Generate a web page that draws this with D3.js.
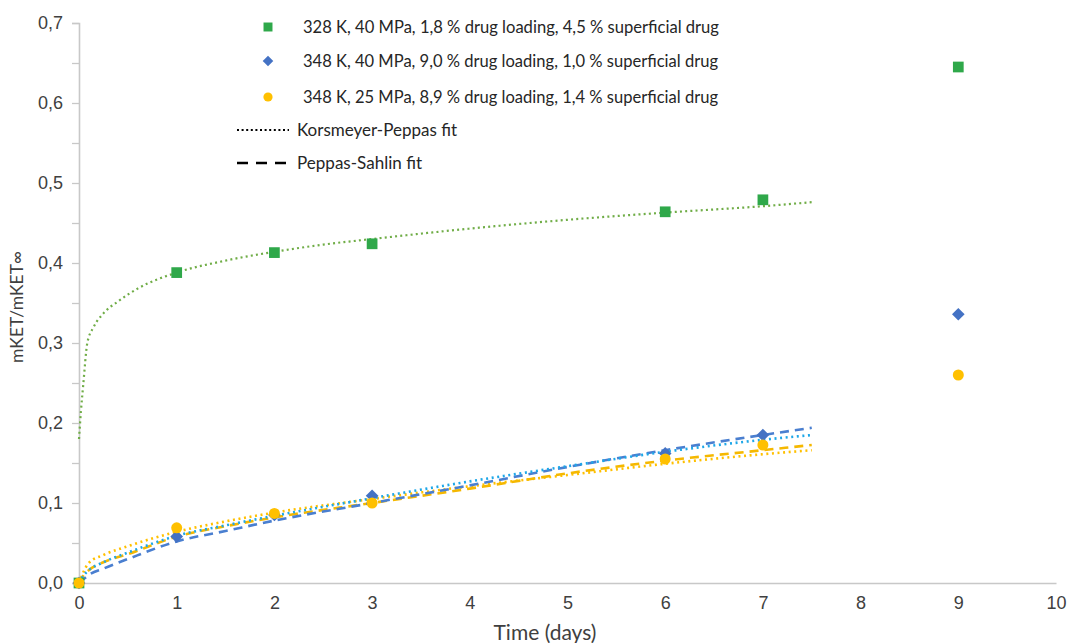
<!DOCTYPE html>
<html>
<head>
<meta charset="utf-8">
<script src="https://cdn.jsdelivr.net/npm/d3@7"></script>
<style>
  body { margin: 0; background: #fff; }
  svg { font-family: Lato, "Open Sans", sans-serif; }
</style>
</head>
<body>
<svg id="chart"></svg>
<script>
// measured points (days, mKET/mKET∞)
let days = [0, 1, 2, 3, 6, 7, 9]
let green = [0, 0.388, 0.413, 0.424, 0.464, 0.479, 0.645]
let blue = [0, 0.058, 0.085, 0.109, 0.162, 0.185, 0.336]
let yellow = [0, 0.069, 0.087, 0.100, 0.155, 0.1725, 0.26]

// fit curves
let greenFitT = [0, 0.02, 0.045, 0.085, 0.15, 0.25, 0.4, 0.6, 1, 1.5, 2, 2.5, 3, 4, 5, 6, 7, 7.5]
let greenKP = [0.18, 0.215, 0.25, 0.30, 0.32, 0.337, 0.352, 0.368, 0.388, 0.403, 0.414, 0.423, 0.43, 0.443, 0.454, 0.463, 0.471, 0.476]

let lowFitT = [0, 0.05, 0.1, 0.25, 0.5, 1, 1.5, 2, 3, 4, 5, 6, 7, 7.5]
let blueKP = [0, 0.010, 0.016, 0.026, 0.038, 0.059, 0.072, 0.084, 0.106, 0.127, 0.146, 0.164, 0.179, 0.185]
let bluePS = [0, 0.005, 0.010, 0.018, 0.030, 0.052, 0.065, 0.078, 0.100, 0.122, 0.145, 0.166, 0.185, 0.194]
let yellowKP = [0, 0.015, 0.025, 0.035, 0.046, 0.064, 0.077, 0.088, 0.105, 0.121, 0.135, 0.149, 0.161, 0.166]
let yellowPS = [0, 0.010, 0.016, 0.026, 0.036, 0.058, 0.071, 0.082, 0.100, 0.118, 0.137, 0.153, 0.166, 0.1725]

let legendLabels = [
    '328 K, 40 MPa, 1,8 % drug loading, 4,5 % superficial drug',
    '348 K, 40 MPa, 9,0 % drug loading, 1,0 % superficial drug',
    '348 K, 25 MPa, 8,9 % drug loading, 1,4 % superficial drug',
    'Korsmeyer-Peppas fit',
    'Peppas-Sahlin fit'
]
let yTicks = [0, 0.1, 0.2, 0.3, 0.4, 0.5, 0.6, 0.7]
let yMinorTicks = [0.05, 0.15, 0.25, 0.35, 0.45, 0.55, 0.65]
let xTicks = [0, 1, 2, 3, 4, 5, 6, 7, 8, 9, 10]

let width = 1067
let height = 643
let padLeft = 79, padRight = 1056, padTop = 23, padBottom = 583

let svg = d3.select('#chart').attr('width', width).attr('height', height)

let xScale = d3.scaleLinear().domain([0, 10]).range([padLeft, padRight])
let yScale = d3.scaleLinear().domain([0, 0.7]).range([padBottom, padTop])

const comma = d => d3.format('.1f')(d).replace('.', ',')

// axes
let yAxis = d3.axisLeft(yScale).tickValues(yTicks).tickFormat(comma).tickSize(7).tickPadding(9)
svg.append('g').attr('transform', `translate(${padLeft},0)`).call(yAxis)
let yMinor = d3.axisLeft(yScale).tickValues(yMinorTicks).tickFormat('').tickSize(7)
let gym = svg.append('g').attr('transform', `translate(${padLeft},0)`).call(yMinor)
gym.select('.domain').remove()

let xAxis = d3.axisBottom(xScale).tickValues(xTicks).tickFormat(d3.format('d')).tickSize(0).tickPadding(13)
svg.append('g').attr('transform', `translate(0,${padBottom})`).call(xAxis)

svg.selectAll('.domain').attr('stroke', '#c8c8c8').attr('stroke-width', 1.6)
svg.selectAll('.tick line').attr('stroke', '#c8c8c8').attr('stroke-width', 1.3)
svg.selectAll('.tick text').attr('fill', '#404040').style('font-size', '18px')

svg.append('text')
    .attr('x', 545).attr('y', 640)
    .attr('text-anchor', 'middle')
    .attr('fill', '#404040')
    .style('font-size', '21px')
    .text('Time (days)')

svg.append('text')
    .attr('transform', 'translate(23,307) rotate(-90)')
    .attr('text-anchor', 'middle')
    .attr('fill', '#404040')
    .style('font-size', '17.5px')
    .text('mKET/mKET∞')

// fit lines
const line = (ts) => d3.line()
    .x((d, i) => xScale(ts[i]))
    .y(d => yScale(d))
    .curve(d3.curveMonotoneX)

let fits = [
    { t: greenFitT, v: greenKP, color: '#70ad47', dash: '2,3.2', w: 2.2 },
    { t: lowFitT, v: yellowKP, color: '#ffc000', dash: '2,3.6', w: 2.6 },
    { t: lowFitT, v: yellowPS, color: '#f5b800', dash: '9,6', w: 2.6 },
    { t: lowFitT, v: bluePS, color: '#4a7fd0', dash: '9,6', w: 2.6 },
    { t: lowFitT, v: blueKP, color: '#1ea7e8', dash: '2,3.6', w: 2.6 }
]
fits.forEach(f => {
    svg.append('path')
        .datum(f.v)
        .attr('d', line(f.t))
        .attr('fill', 'none')
        .attr('stroke', f.color)
        .attr('stroke-width', f.w)
        .attr('stroke-dasharray', f.dash)
})

// markers
let series = [
    { v: green, color: '#2fa84a', shape: d3.symbolSquare, size: 115, rot: 0 },
    { v: blue, color: '#4472c4', shape: d3.symbolSquare, size: 80, rot: 45 },
    { v: yellow, color: '#ffc000', shape: d3.symbolCircle, size: 95, rot: 0 }
]
series.forEach(s => {
    svg.append('g').selectAll('path')
        .data(s.v)
        .enter()
        .append('path')
        .attr('d', d3.symbol().type(s.shape).size(s.size))
        .attr('transform', (d, i) => `translate(${xScale(days[i])},${yScale(d)}) rotate(${s.rot})`)
        .attr('fill', s.color)
})

// legend
let legendY = [27, 61, 97, 130, 163]
let legend = svg.append('g')
series.forEach((s, i) => {
    legend.append('path')
        .attr('d', d3.symbol().type(s.shape).size(s.size * 0.7))
        .attr('transform', `translate(268,${legendY[i]}) rotate(${s.rot})`)
        .attr('fill', s.color)
})
legend.append('line')
    .attr('x1', 237).attr('x2', 289).attr('y1', legendY[3]).attr('y2', legendY[3])
    .attr('stroke', '#000').attr('stroke-width', 2.2).attr('stroke-dasharray', '2,2.6')
legend.append('line')
    .attr('x1', 237).attr('x2', 293).attr('y1', legendY[4]).attr('y2', legendY[4])
    .attr('stroke', '#000').attr('stroke-width', 2.4).attr('stroke-dasharray', '11,8')
let legendX = [303, 303, 303, 297, 297]
let legendW = [416, 415, 415, 160, 125]
legendLabels.forEach((t, i) => {
    legend.append('text')
        .attr('x', legendX[i]).attr('y', legendY[i])
        .attr('dy', '0.35em')
        .attr('fill', '#262626')
        .attr('textLength', legendW[i])
        .attr('lengthAdjust', 'spacingAndGlyphs')
        .style('font-size', '17px')
        .text(t)
})
</script>
</body>
</html>
